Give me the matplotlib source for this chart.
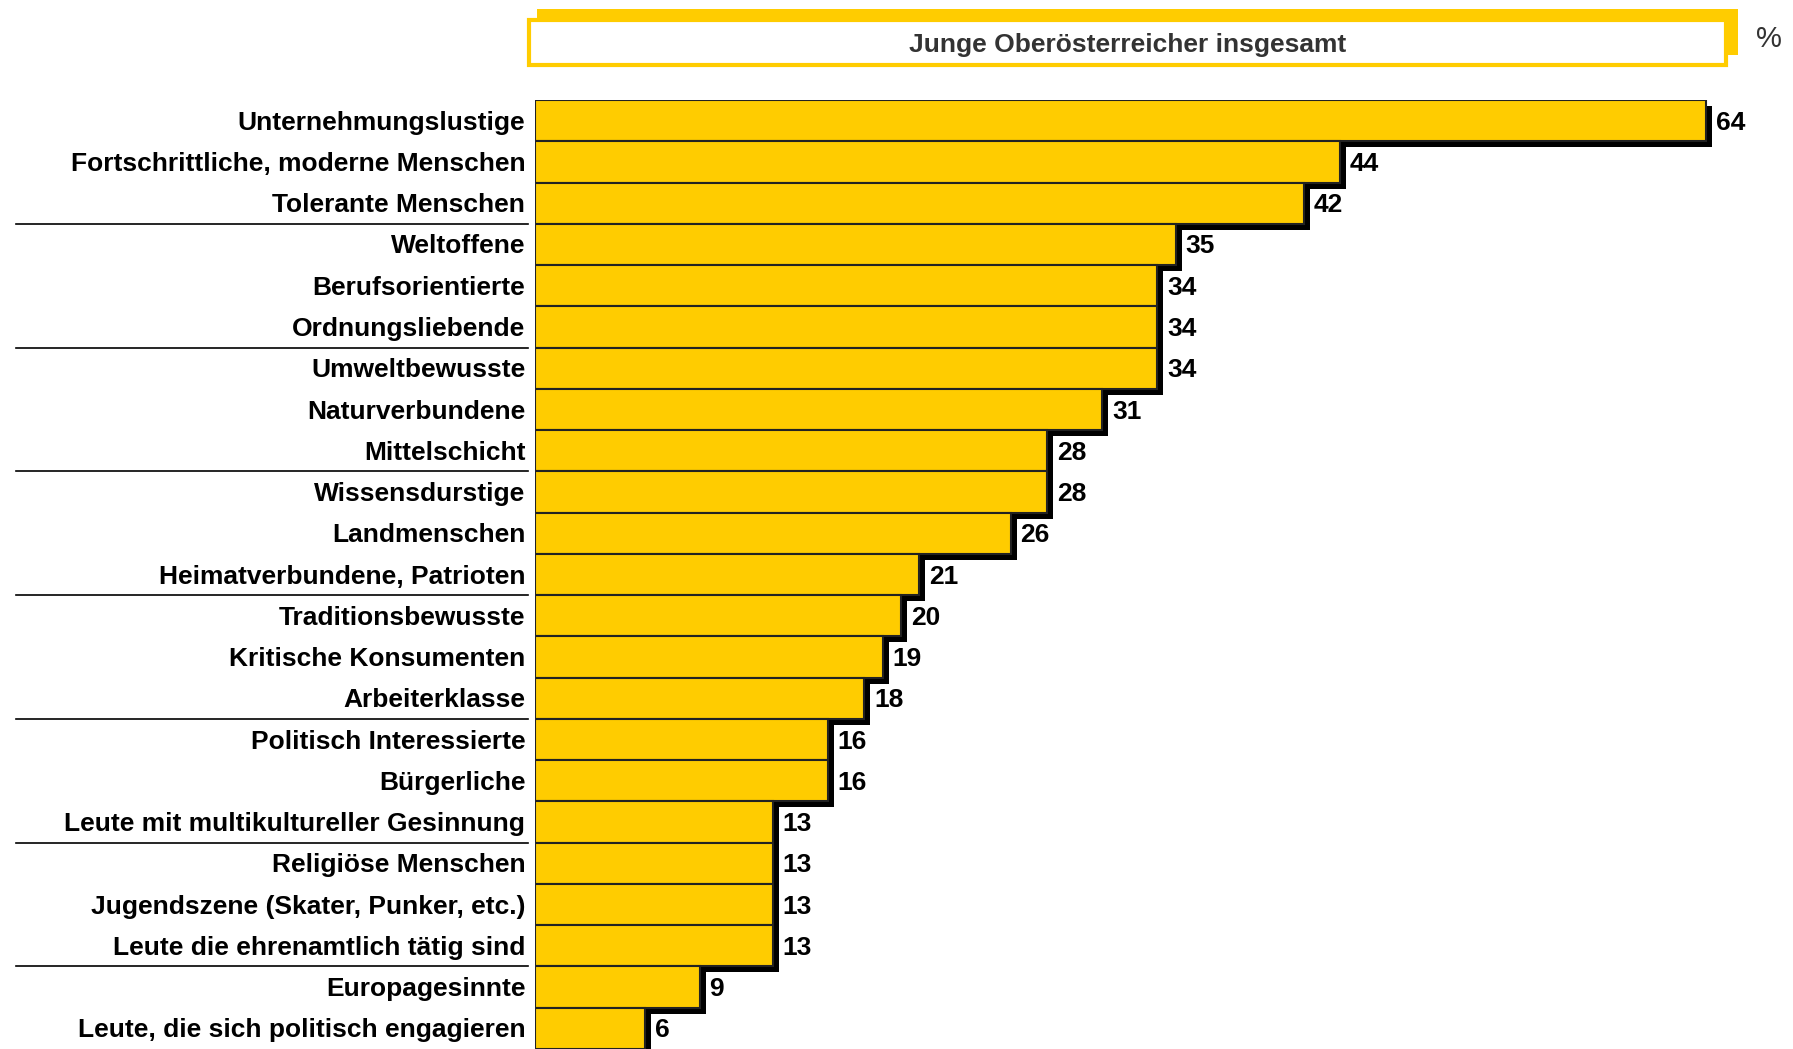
import matplotlib
matplotlib.use("Agg")
import matplotlib.pyplot as plt
from matplotlib.patches import Rectangle
from matplotlib.transforms import ScaledTranslation, blended_transform_factory

plt.rcParams['font.family'] = ['Liberation Sans', 'DejaVu Sans']

categories = [
    "Unternehmungslustige",
    "Fortschrittliche, moderne Menschen",
    "Tolerante Menschen",
    "Weltoffene",
    "Berufsorientierte",
    "Ordnungsliebende",
    "Umweltbewusste",
    "Naturverbundene",
    "Mittelschicht",
    "Wissensdurstige",
    "Landmenschen",
    "Heimatverbundene, Patrioten",
    "Traditionsbewusste",
    "Kritische Konsumenten",
    "Arbeiterklasse",
    "Politisch Interessierte",
    "Bürgerliche",
    "Leute mit multikultureller Gesinnung",
    "Religiöse Menschen",
    "Jugendszene (Skater, Punker, etc.)",
    "Leute die ehrenamtlich tätig sind",
    "Europagesinnte",
    "Leute, die sich politisch engagieren",
]
values = [64, 44, 42, 35, 34, 34, 34, 31, 28, 28, 26, 21, 20, 19, 18, 16, 16, 13, 13, 13, 13, 9, 6]
title = "Junge Oberösterreicher insgesamt"
unit = "%"

W, H = 1793, 1049
fig = plt.figure(figsize=(W / 100, H / 100), dpi=100)
fig.patch.set_facecolor('white')

left_px, top_px = 535, 100
xmax = 70
px_per_unit = 18.3
ax_w = xmax * px_per_unit
ax = fig.add_axes([left_px / W, 0, ax_w / W, (H - top_px) / H])
ax.set_xlim(0, xmax)
n = len(values)
ax.set_ylim(n - 0.5, -0.5)
ax.axis('off')

y = list(range(n))
yellow = '#FFCC00'

# shadows
offset = ScaledTranslation(6 / 100, -6 / 100, fig.dpi_scale_trans)
shadows = ax.barh(y, values, height=1.0, color='black', zorder=1)
for p in shadows:
    p.set_transform(ax.transData + offset)

ax.barh(y, values, height=1.0, color=yellow, edgecolor='#222222', linewidth=1.5, zorder=2)

for yi, v in zip(y, values):
    ax.annotate(str(v), (v, yi), xytext=(7, -1.5), textcoords='offset points',
                ha='left', va='center', fontsize=19, fontweight='bold', color='black', zorder=3)

# category labels
for yi, c in zip(y, categories):
    ax.annotate(c, (0, yi), xytext=(-7, -1.5), textcoords='offset points',
                ha='right', va='center', fontsize=19, fontweight='bold', color='black',
                annotation_clip=False)

# separators
trans = blended_transform_factory(fig.transFigure, ax.transData)
for b in [2.5, 5.5, 8.5, 11.5, 14.5, 17.5, 20.5]:
    ax.plot([16 / W, 528 / W], [b, b], transform=trans, color='black', lw=1.2, clip_on=False)

# header
fig.patches.append(Rectangle((537 / W, 1 - 55 / H), (1738 - 537) / W, (55 - 9) / H,
                             transform=fig.transFigure, facecolor=yellow, edgecolor='none', zorder=1))
fig.patches.append(Rectangle((529 / W, 1 - 65 / H), (1726 - 529) / W, (65 - 20) / H,
                             transform=fig.transFigure, facecolor='white', edgecolor=yellow,
                             linewidth=3, zorder=2))
fig.text((529 + 1726) / 2 / W, 1 - 45 / H, title, ha='center', va='center',
         fontsize=19, fontweight='bold', color='#333333', zorder=3)
fig.text(1769 / W, 1 - 39 / H, unit, ha='center', va='center', fontsize=21, color='#333333')

fig.savefig('out.png', dpi=100)
